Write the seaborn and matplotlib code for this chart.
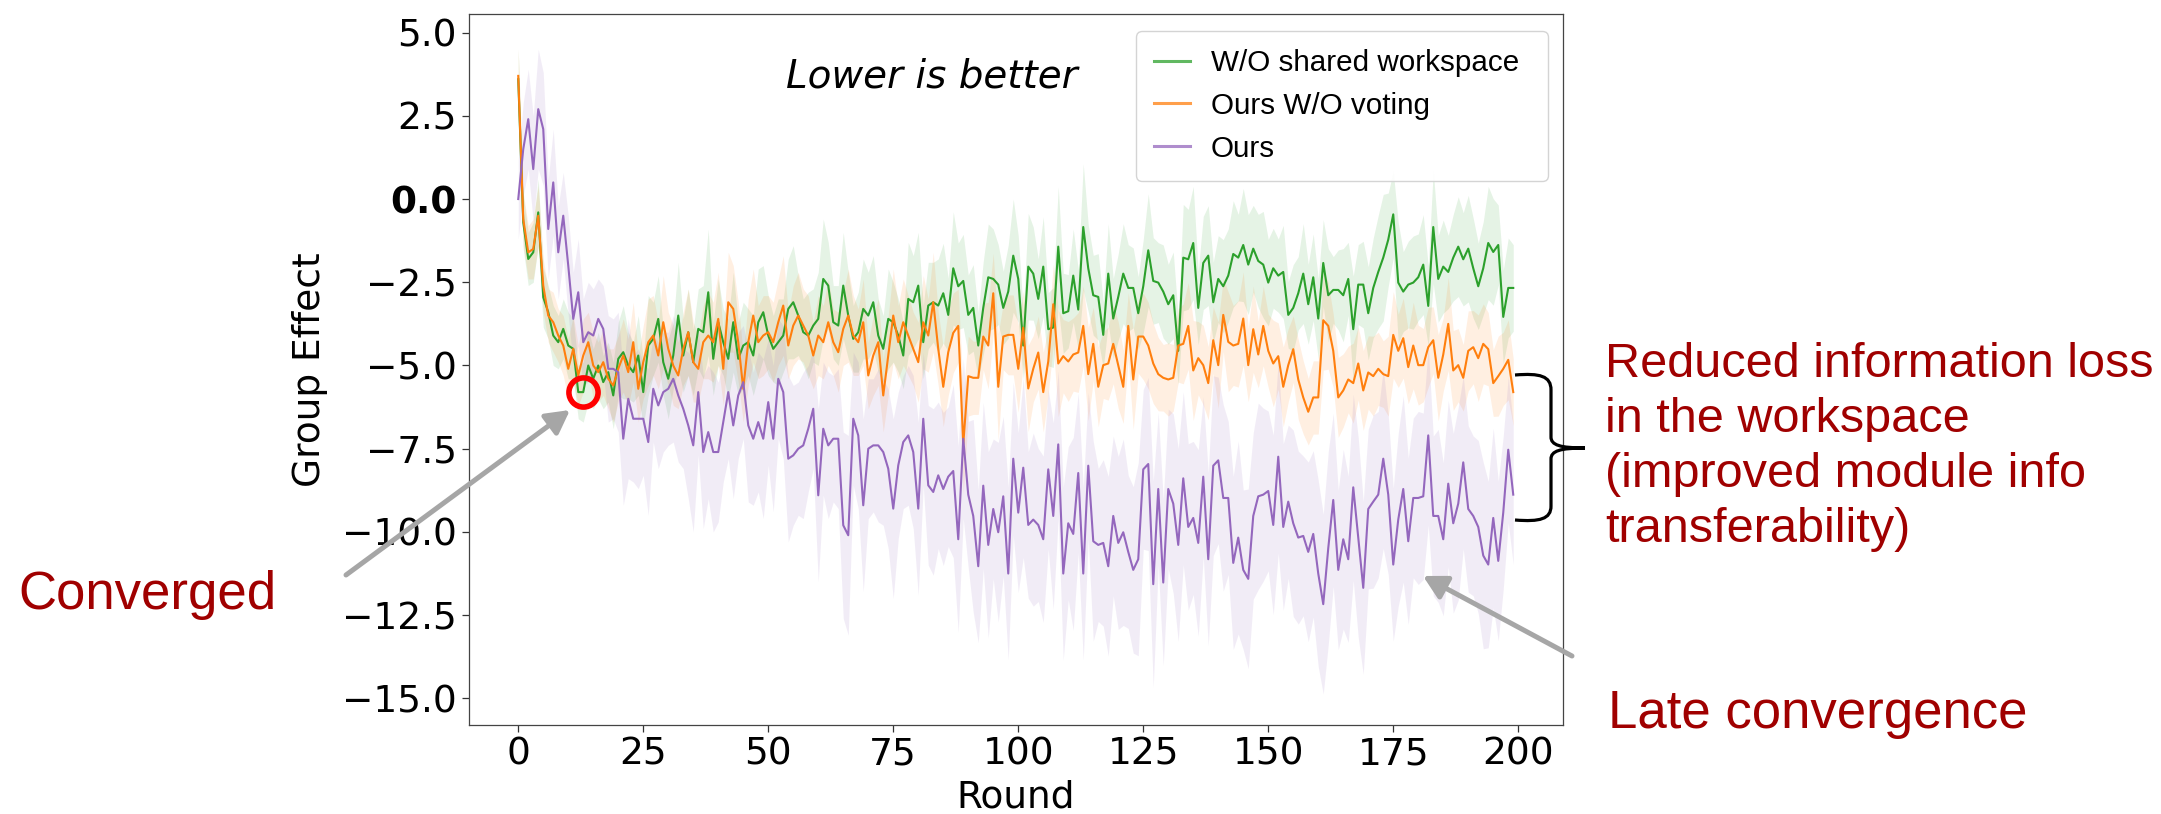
import numpy as np
import pandas as pd
import matplotlib
matplotlib.use("Agg")
import matplotlib.pyplot as plt
import seaborn as sns
from matplotlib.path import Path
from matplotlib.patches import PathPatch

# ---------------------------------------------------------------- data
rounds = np.arange(200)

series_names = ["W/O shared workspace", "Ours W/O voting", "Ours"]
series_colors = ["#2ca02c", "#ff7f0e", "#9467bd"]

no_workspace_mean = [
    3.6, -0.7, -1.8, -1.6, -0.4, -2.95, -3.4, -4.1, -4.3, -3.9,
    -4.4, -4.5, -5.8, -5.8, -5.0, -5.4, -5.0, -5.5, -5.2, -5.9,
    -4.8, -4.6, -5.0, -5.2, -4.7, -5.8, -4.4, -4.2, -3.6, -4.9,
    -5.4, -4.7, -3.5, -4.7, -4.0, -4.9, -3.9, -4.0, -2.8, -4.8,
    -3.7, -4.3, -4.8, -3.7, -4.8, -4.4, -4.3, -4.7, -3.7, -3.4,
    -4.1, -4.5, -4.3, -4.1, -3.3, -3.1, -3.5, -4.0, -4.1, -3.8,
    -3.6, -2.4, -2.6, -3.7, -3.8, -2.6, -3.5, -4.2, -4.0, -3.3,
    -3.5, -3.1, -4.1, -4.5, -3.6, -3.7, -4.1, -4.7, -3.0, -3.1,
    -2.6, -4.3, -3.2, -3.1, -3.2, -2.83, -3.48, -2.08, -2.62, -2.46,
    -3.48, -3.27, -4.40, -3.27, -2.35, -2.40, -2.57, -3.27, -2.78, -1.70,
    -2.40, -4.40, -2.03, -2.24, -3.00, -2.03, -3.91, -3.86, -1.43, -3.43,
    -3.37, -2.30, -3.32, -0.84, -2.08, -2.89, -2.94, -4.08, -2.24, -3.59,
    -2.94, -2.24, -2.67, -2.67, -3.43, -2.62, -1.54, -2.46, -2.51, -2.78,
    -3.16, -2.89, -4.56, -1.76, -1.81, -1.32, -3.27, -1.92, -1.70, -3.10,
    -2.40, -2.62, -2.30, -1.65, -1.76, -1.38, -1.97, -1.49, -1.86, -1.97,
    -2.51, -2.08, -2.30, -2.19, -3.48, -3.27, -2.83, -2.24, -3.16, -2.35,
    -3.59, -1.92, -2.89, -2.73, -2.73, -2.89, -2.40, -3.91, -2.57, -2.57,
    -3.43, -2.67, -2.19, -1.76, -1.22, -0.46, -2.51, -2.78, -2.57, -2.51,
    -2.35, -1.97, -3.21, -0.84, -2.40, -2.03, -2.19, -1.76, -1.43, -1.81,
    -1.49, -2.08, -2.62, -2.08, -1.32, -1.59, -1.38, -3.54, -2.67, -2.67,
]

no_voting_mean = [
    3.7, -0.6, -1.6, -1.5, -0.5, -2.6, -3.5, -3.7, -4.1, -4.4,
    -5.1, -4.5, -5.3, -4.7, -4.3, -5.0, -5.2, -4.9, -5.4, -5.6,
    -5.1, -4.7, -5.2, -4.3, -5.7, -4.9, -4.3, -4.1, -4.7, -3.7,
    -4.5, -5.0, -5.3, -4.5, -4.0, -4.9, -5.1, -4.3, -4.1, -4.3,
    -3.6, -5.1, -3.1, -3.3, -4.3, -5.7, -4.3, -3.5, -4.3, -4.1,
    -4.0, -4.3, -3.7, -3.2, -4.4, -3.8, -3.5, -3.8, -4.1, -4.7,
    -4.1, -4.3, -3.7, -4.3, -4.6, -3.9, -3.5, -4.1, -4.3, -3.7,
    -5.3, -4.7, -4.3, -5.9, -4.7, -3.5, -4.3, -3.7, -4.1, -4.5,
    -4.9, -3.7, -4.1, -3.1, -4.5, -5.64, -4.6, -4.02, -3.81, -7.37,
    -5.32, -5.37, -5.37, -4.13, -4.40, -2.83, -5.64, -4.13, -4.08, -4.08,
    -5.10, -3.86, -5.69, -5.10, -4.61, -5.80, -4.88, -3.16, -4.94, -4.72,
    -4.88, -4.67, -4.61, -3.81, -5.26, -4.35, -5.64, -4.99, -4.94, -4.35,
    -4.99, -5.64, -3.81, -5.42, -4.13, -4.13, -4.40, -4.94, -5.26, -5.37,
    -5.42, -5.37, -4.40, -4.35, -3.81, -5.15, -4.78, -4.99, -5.53, -4.24,
    -4.99, -3.48, -4.29, -4.40, -4.35, -3.59, -4.99, -3.91, -4.67, -3.81,
    -4.56, -4.94, -4.72, -5.64, -4.99, -4.51, -5.42, -5.96, -6.39, -5.96,
    -5.96, -3.64, -3.81, -4.56, -5.96, -5.75, -5.42, -5.53, -4.94, -5.75,
    -5.21, -5.32, -5.10, -5.26, -5.32, -4.08, -4.56, -4.18, -5.05, -4.40,
    -4.99, -4.99, -4.45, -4.24, -5.37, -4.67, -3.75, -5.15, -4.99, -5.37,
    -4.56, -4.45, -4.78, -4.35, -4.51, -5.53, -5.32, -5.10, -4.83, -5.80,
]

ours_mean = [
    0.0, 1.5, 2.4, 0.9, 2.7, 2.1, -0.9, 0.5, -1.6, -0.5,
    -2.0, -3.6, -2.8, -4.3, -4.0, -4.1, -3.6, -3.9, -5.1, -5.1,
    -5.2, -7.2, -6.0, -6.6, -6.6, -6.6, -7.3, -5.7, -6.2, -5.8,
    -5.7, -5.4, -5.9, -6.3, -6.8, -7.4, -5.8, -7.6, -7.0, -7.6,
    -7.6, -6.7, -5.8, -6.8, -5.9, -5.5, -6.8, -7.2, -6.7, -7.2,
    -6.1, -7.2, -5.4, -5.8, -7.8, -7.7, -7.5, -7.4, -6.9, -6.3,
    -8.9, -6.9, -7.4, -7.2, -7.2, -9.8, -10.1, -6.6, -7.1, -9.2,
    -7.5, -7.4, -7.4, -7.6, -8.1, -9.3, -8.0, -7.3, -7.1, -7.6,
    -9.3, -6.6, -8.6, -8.8, -8.3, -8.71, -8.34, -8.17, -10.22, -7.20,
    -8.88, -9.52, -11.03, -8.61, -10.39, -9.31, -10.01, -8.93, -11.25, -7.80,
    -9.42, -8.07, -9.79, -9.63, -9.79, -10.22, -8.12, -9.52, -7.37, -11.25,
    -9.74, -10.06, -8.23, -11.25, -8.01, -10.28, -10.39, -10.33, -11.03, -9.52,
    -10.33, -10.01, -10.60, -11.14, -10.82, -8.12, -7.96, -11.57, -8.71, -11.52,
    -8.71, -9.15, -10.39, -8.39, -9.85, -9.58, -10.33, -8.34, -10.82, -8.01,
    -7.85, -8.98, -8.98, -10.93, -10.17, -11.14, -11.41, -9.52, -8.93, -8.88,
    -8.77, -9.79, -7.74, -9.85, -9.09, -9.74, -10.17, -10.12, -10.60, -10.06,
    -11.25, -12.17, -10.49, -9.04, -11.14, -10.22, -10.82, -8.66, -10.17, -11.68,
    -9.31, -9.09, -8.88, -7.80, -8.88, -10.98, -9.63, -8.71, -10.28, -8.98,
    -8.98, -8.93, -7.10, -9.52, -9.52, -10.22, -8.55, -9.74, -9.15, -7.91,
    -9.31, -9.52, -9.85, -10.71, -10.98, -9.58, -10.87, -9.42, -7.53, -8.88,
]

# half-width of the shaded confidence band around each mean curve
no_workspace_spread = [
    0.9, 0.8, 0.8, 0.9, 1.0, 0.9, 0.8, 0.9, 0.8, 0.9,
    1.0, 0.9, 0.8, 0.9, 1.1, 0.9, 1.0, 0.8, 0.9, 1.0,
    1.1, 1.4, 1.0, 0.9, 1.2, 1.0, 1.5, 1.1, 1.3, 1.0,
    1.2, 1.0, 1.6, 1.1, 1.3, 1.0, 1.2, 1.4, 1.9, 1.1,
    1.3, 1.0, 1.2, 1.5, 1.1, 1.3, 1.0, 1.2, 1.6, 1.4,
    1.2, 1.0, 1.3, 1.1, 1.5, 1.7, 1.2, 1.0, 1.3, 1.1,
    1.4, 1.8, 1.3, 1.1, 1.2, 1.6, 1.3, 1.0, 1.2, 1.5,
    1.3, 1.4, 1.1, 1.0, 1.5, 1.2, 1.1, 1.0, 1.7, 1.4,
    1.6, 1.1, 1.3, 1.2, 1.4, 1.5, 1.1, 1.7, 1.3, 1.4,
    1.2, 1.3, 1.0, 1.4, 1.6, 1.5, 1.2, 1.1, 1.4, 1.7,
    1.3, 1.0, 1.6, 1.4, 1.2, 1.5, 1.1, 1.2, 1.8, 1.2,
    1.1, 1.4, 1.2, 1.9, 1.3, 1.2, 1.3, 1.0, 1.5, 1.2,
    1.3, 1.5, 1.3, 1.2, 1.1, 1.4, 1.7, 1.3, 1.2, 1.4,
    1.2, 1.3, 1.0, 1.6, 1.5, 1.7, 1.1, 1.4, 1.5, 1.2,
    1.3, 1.4, 1.4, 1.6, 1.3, 1.7, 1.5, 1.3, 1.4, 1.6,
    1.3, 1.2, 1.1, 1.4, 1.0, 1.3, 1.1, 1.5, 1.2, 1.3,
    1.2, 1.3, 1.4, 1.0, 1.2, 1.4, 1.1, 1.6, 1.2, 1.3,
    1.4, 1.5, 1.7, 1.9, 1.4, 1.3, 1.8, 1.2, 1.3, 1.4,
    1.3, 1.5, 1.2, 1.7, 1.3, 1.4, 1.1, 1.3, 1.5, 1.4,
    1.6, 1.5, 1.3, 1.4, 1.7, 1.6, 1.2, 1.4, 1.5, 1.3,
]

no_voting_spread = [
    0.8, 0.8, 0.8, 0.9, 0.9, 0.8, 0.8, 0.9, 0.8, 0.9,
    0.9, 1.0, 0.9, 1.1, 0.9, 1.0, 0.9, 1.0, 0.9, 1.1,
    1.0, 1.1, 1.0, 1.2, 1.0, 1.1, 1.3, 1.2, 1.0, 1.4,
    1.1, 1.2, 1.0, 1.1, 1.3, 1.2, 1.0, 1.1, 1.3, 1.2,
    1.4, 1.1, 1.5, 1.3, 1.2, 1.0, 1.3, 1.4, 1.1, 1.2,
    1.1, 1.2, 1.3, 1.5, 1.0, 1.2, 1.3, 1.1, 1.2, 1.0,
    1.2, 1.1, 1.3, 1.0, 1.2, 1.1, 1.4, 1.2, 1.0, 1.3,
    1.0, 1.2, 1.3, 1.1, 1.2, 1.4, 1.1, 1.3, 1.2, 1.1,
    1.2, 1.4, 1.1, 1.5, 1.1, 1.2, 1.3, 1.2, 1.1, 1.5,
    1.2, 1.1, 1.1, 1.0, 1.3, 1.2, 1.6, 1.0, 1.2, 1.2,
    1.3, 1.1, 1.3, 1.0, 1.1, 1.2, 1.0, 1.2, 1.6, 1.1,
    1.2, 1.1, 1.2, 1.2, 1.4, 1.1, 1.2, 1.0, 1.1, 1.2,
    1.3, 1.1, 1.0, 1.5, 1.1, 1.3, 1.3, 1.2, 1.1, 1.0,
    1.1, 1.0, 1.1, 1.2, 1.3, 1.5, 1.1, 1.2, 1.1, 1.0,
    1.3, 1.1, 1.5, 1.2, 1.3, 1.4, 1.1, 1.3, 1.0, 1.2,
    1.1, 1.3, 1.0, 1.2, 1.1, 1.0, 1.2, 1.1, 1.0, 1.1,
    1.1, 1.5, 1.3, 1.1, 1.2, 1.1, 1.0, 1.2, 1.1, 1.2,
    1.1, 1.2, 1.1, 1.0, 1.2, 1.3, 1.1, 1.2, 1.1, 1.3,
    1.2, 1.1, 1.2, 1.0, 1.3, 1.1, 1.4, 1.2, 1.1, 1.0,
    1.2, 1.1, 1.3, 1.2, 1.1, 1.0, 1.2, 1.1, 1.2, 1.0,
]

ours_spread = [
    1.2, 1.4, 1.5, 1.6, 1.8, 1.7, 1.5, 1.6, 1.4, 1.3,
    1.5, 1.4, 1.6, 1.3, 1.5, 1.4, 1.2, 1.3, 1.6, 1.5,
    1.8, 2.0, 2.4, 1.9, 2.1, 1.7, 2.2, 1.6, 1.9, 1.8,
    1.7, 1.9, 2.0, 1.8, 2.2, 2.6, 1.9, 2.3, 2.0, 2.4,
    2.1, 1.8, 2.0, 2.2, 1.9, 1.7, 2.3, 2.0, 2.1, 2.4,
    1.9, 2.2, 1.8, 2.0, 2.5, 2.1, 2.0, 2.2, 1.9, 1.8,
    2.6, 2.0, 2.2, 1.9, 2.1, 2.8, 3.0, 2.0, 2.2, 2.6,
    2.1, 2.0, 2.3, 2.2, 2.4, 2.7, 2.2, 2.0, 2.1, 2.3,
    2.6, 2.0, 2.4, 2.5, 2.2, 2.3, 2.1, 2.6, 2.8, 2.4,
    2.2, 2.9, 2.3, 2.5, 2.8, 2.1, 2.7, 2.4, 2.6, 2.3,
    2.4, 2.7, 2.2, 2.6, 2.3, 2.5, 2.4, 2.8, 2.2, 2.6,
    2.3, 2.9, 2.4, 2.6, 2.2, 3.0, 2.3, 2.5, 2.7, 2.4,
    2.6, 2.8, 2.3, 2.5, 2.9, 2.4, 2.6, 3.1, 2.3, 2.5,
    2.4, 2.7, 2.9, 2.6, 2.5, 2.3, 2.8, 2.4, 2.6, 2.7,
    2.5, 2.8, 2.3, 2.6, 2.9, 2.4, 2.7, 2.5, 2.8, 2.6,
    2.4, 2.7, 2.9, 2.5, 2.3, 2.8, 2.6, 2.4, 2.7, 2.5,
    2.8, 2.7, 2.9, 2.6, 2.4, 2.7, 2.5, 2.8, 3.0, 2.6,
    2.4, 2.6, 2.5, 2.7, 2.4, 2.3, 2.6, 2.8, 2.5, 2.4,
    2.6, 2.5, 2.7, 2.4, 2.6, 2.3, 2.5, 2.7, 2.9, 2.6,
    2.5, 2.4, 2.6, 2.8, 2.5, 2.7, 2.4, 2.3, 2.2, 2.1,
]

x_ticks = [0, 25, 50, 75, 100, 125, 150, 175, 200]
y_ticks = [-15.0, -12.5, -10.0, -7.5, -5.0, -2.5, 0.0, 2.5, 5.0]
converged_round = 13

# ---------------------------------------------------------------- figure
W, H = 2161, 814
fig = plt.figure(figsize=(W / 100, H / 100), dpi=100)
ax_left, ax_right, ax_top, ax_bottom = 468.5, 1563, 14.3, 725
ax = fig.add_axes([ax_left / W, 1 - ax_bottom / H,
                   (ax_right - ax_left) / W, (ax_bottom - ax_top) / H])


def fig_xy(px, py):
    """Pixel position measured from the top-left corner -> figure fraction."""
    return px / W, 1 - py / H


def ax_xy(px, py):
    """Pixel position measured from the top-left corner -> axes fraction."""
    return ((px - ax_left) / (ax_right - ax_left),
            (ax_bottom - py) / (ax_bottom - ax_top))


means = [no_workspace_mean, no_voting_mean, ours_mean]
spreads = [no_workspace_spread, no_voting_spread, ours_spread]

long_df = pd.concat(
    [pd.DataFrame({"Round": rounds, "Group Effect": m, "method": n})
     for m, n in zip(means, series_names)],
    ignore_index=True,
)

for m, s, c in zip(means, spreads, series_colors):
    m = np.asarray(m)
    s = np.asarray(s)
    ax.fill_between(rounds, m - s, m + s, color=c, alpha=0.12, lw=0)

sns.lineplot(data=long_df, x="Round", y="Group Effect", hue="method",
             hue_order=series_names, palette=series_colors,
             errorbar=None, lw=1.5, ax=ax)

ax.set_xlim(-9.95, 208.95)
ax.set_ylim(-15.8, 5.55)
ax.set_xticks(x_ticks)
ax.set_xticklabels([str(t) for t in x_ticks])
ax.set_yticks(y_ticks)
ylabels = ax.set_yticklabels([f"{t:.1f}".replace("-", "\u2212") for t in y_ticks])
for lbl in ylabels:
    if lbl.get_text() == "0.0":
        lbl.set_fontweight("bold")
ax.tick_params(labelsize=27, length=5, width=0.9, color="#333333")
ax.set_xlabel("Round", fontsize=27, labelpad=5)
ax.set_ylabel("Group Effect", fontsize=27, labelpad=10)
for sp in ax.spines.values():
    sp.set_color("#444444")
    sp.set_linewidth(0.9)

# legend box stretched over a fixed span of the upper-right corner
leg_x0, leg_top = ax_xy(1136, 30.7)
leg_x1, _ = ax_xy(1548, 30.7)
handles, _ = ax.get_legend_handles_labels()
leg = ax.legend(handles[:3], series_names, loc="upper left",
                bbox_to_anchor=(leg_x0, 0.0, leg_x1 - leg_x0, leg_top),
                mode="expand", borderaxespad=0.0,
                prop={"family": "Liberation Sans", "size": 21.3},
                frameon=True, fancybox=True, edgecolor="#d0d0d0",
                framealpha=0.9, handlelength=1.2, handletextpad=0.7,
                labelspacing=0.5, borderpad=0.62)
for h in leg.get_lines():
    h.set_alpha(0.75)
    h.set_linewidth(2.2)

fig.text(*fig_xy(786, 87), "Lower is better",
         fontsize=28, style="italic", ha="left", va="baseline")

# convergence marker on the curve without the shared workspace
ax.plot(converged_round, no_workspace_mean[converged_round], "o", ms=21,
        mfc="none", mec="#ff0000", mew=4, zorder=5)

# ---------------------------------------------------------------- annotations
red = "#A00000"
fig.text(*fig_xy(18, 609), "Converged", color=red, fontsize=38,
         family="Liberation Sans", ha="left", va="baseline")
for txt, base in zip(["Reduced information loss", "in the workspace",
                      "(improved module info", "transferability)"],
                     [377, 432, 487, 542]):
    fig.text(*fig_xy(1605, base), txt, color=red, fontsize=35,
             family="Liberation Sans", ha="left", va="baseline")
fig.text(*fig_xy(1608, 728), "Late convergence", color=red, fontsize=38,
         family="Liberation Sans", ha="left", va="baseline")

arrow_style = dict(arrowstyle="-|>,head_length=0.7,head_width=0.38",
                   color="#A6A6A6", lw=3.6, mutation_scale=20,
                   shrinkA=0, shrinkB=0)
ax.annotate("", xy=fig_xy(570, 410), xycoords="figure fraction",
            xytext=fig_xy(346, 575), textcoords="figure fraction",
            arrowprops=arrow_style, annotation_clip=False)
ax.annotate("", xy=fig_xy(1423, 576), xycoords="figure fraction",
            xytext=fig_xy(1572, 656), textcoords="figure fraction",
            arrowprops=arrow_style, annotation_clip=False)

# curly brace spanning the gap between the two variants
brace_px = [
    (1515, 375), (1540, 373), (1551, 376), (1551, 390),
    (1551, 437),
    (1551, 445), (1560, 448), (1585, 448),
    (1560, 448), (1551, 451), (1551, 459),
    (1551, 506),
    (1551, 519), (1540, 522), (1515, 520),
]
codes = [Path.MOVETO, Path.CURVE4, Path.CURVE4, Path.CURVE4,
         Path.LINETO,
         Path.CURVE4, Path.CURVE4, Path.CURVE4,
         Path.CURVE4, Path.CURVE4, Path.CURVE4,
         Path.LINETO,
         Path.CURVE4, Path.CURVE4, Path.CURVE4]
brace = PathPatch(Path([fig_xy(x, y) for x, y in brace_px], codes),
                  transform=fig.transFigure, fill=False, lw=2.3,
                  edgecolor="black", clip_on=False)
fig.add_artist(brace)

fig.savefig("out.png", dpi=100)
